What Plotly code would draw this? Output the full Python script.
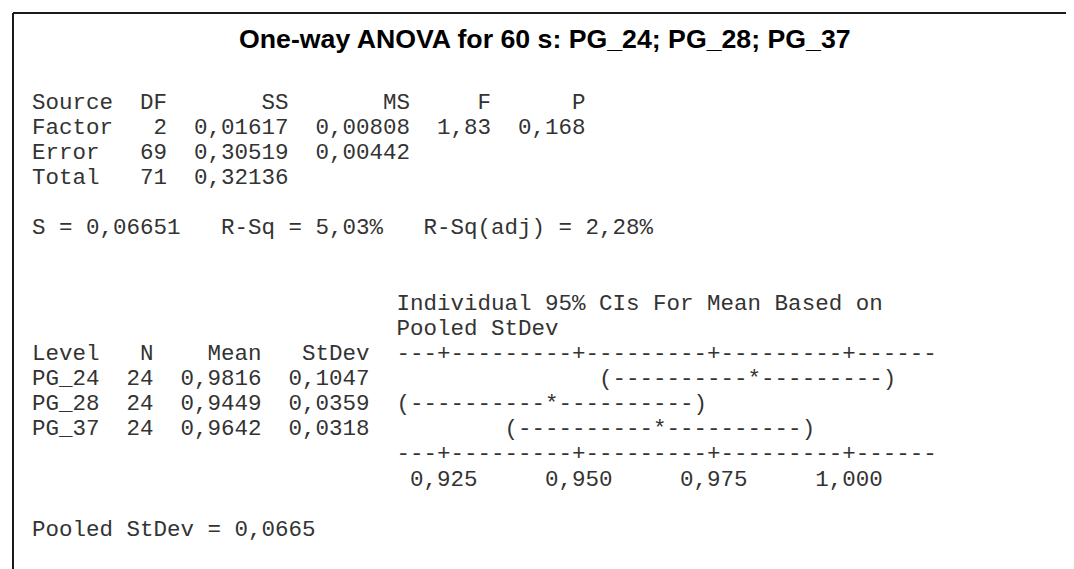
import plotly.graph_objects as go

# ---------------- data ----------------
title_text = "One-way ANOVA for 60 s: PG_24; PG_28; PG_37"

sources = ["Factor", "Error", "Total"]
dfs = [2, 69, 71]
ss_vals = [0.01617, 0.30519, 0.32136]
ms_vals = [0.00808, 0.00442, None]
f_vals = [1.83, None, None]
p_vals = [0.168, None, None]

s_value = 0.06651
r_sq = 5.03
r_sq_adj = 2.28

levels = ["PG_24", "PG_28", "PG_37"]
n_vals = [24, 24, 24]
means = [0.9816, 0.9449, 0.9642]
stdevs = [0.1047, 0.0359, 0.0318]
pooled_sd = 0.0665
t_crit = 1.995

tick_vals = [0.925, 0.950, 0.975, 1.000]
tick_labels = ["0,925", "0,950", "0,975", "1,000"]

# ---------------- layout constants ----------------
W, H = 1074, 569
X0 = 22          # left of text column 0 (px)
Y0 = 95          # centre of first text line (px)
DY = 25.1        # line spacing (px)
MONO = "Liberation Mono, Courier New, monospace"
FS = 22.5
TXT_COL = "#333333"

AX_W = 40        # axis width in characters
STEP = 0.0025    # value per character
TICK_COL = 3     # char column of first tick within axis


def fmt(v, d):
    return f"{v:.{d}f}".replace(".", ",")


def col_of(v):
    return int(round(TICK_COL + (v - tick_vals[0]) / STEP))


def axis_line():
    chars = ["-"] * AX_W
    for t in tick_vals:
        chars[col_of(t)] = "+"
    return "".join(chars)


def ci_line(m):
    half = t_crit * pooled_sd / (n_vals[0] ** 0.5)
    lo, hi, c = col_of(m - half), col_of(m + half), col_of(m)
    chars = [" "] * AX_W
    for i in range(lo + 1, hi):
        chars[i] = "-"
    chars[lo] = "("
    chars[hi] = ")"
    chars[c] = "*"
    return "".join(chars).rstrip()


def tick_label_line():
    chars = [" "] * AX_W
    for t, lab in zip(tick_vals, tick_labels):
        start = col_of(t) - len(lab) // 2
        for i, ch in enumerate(lab):
            chars[start + i] = ch
    return "".join(chars).rstrip()


lines = []
lines.append(f"{'Source':<6}  {'DF':>2}  {'SS':>7}  {'MS':>7}  {'F':>4}  {'P':>5}")
for s, d, ss, ms, f, p in zip(sources, dfs, ss_vals, ms_vals, f_vals, p_vals):
    row = f"{s:<6}  {d:>2}  {fmt(ss, 5):>7}"
    if ms is not None:
        row += f"  {fmt(ms, 5):>7}"
    if f is not None:
        row += f"  {fmt(f, 2):>4}  {fmt(p, 3):>5}"
    lines.append(row)
lines.append("")
lines.append(f"S = {fmt(s_value, 5)}   R-Sq = {fmt(r_sq, 2)}%   R-Sq(adj) = {fmt(r_sq_adj, 2)}%")
lines.append("")
lines.append("")
pad = " " * 27
lines.append(pad + "Individual 95% CIs For Mean Based on")
lines.append(pad + "Pooled StDev")
lines.append(f"{'Level':<6}{'N':>3}  {'Mean':>6}  {'StDev':>6}  " + axis_line())
for lv, n, m, sd in zip(levels, n_vals, means, stdevs):
    lines.append(f"{lv:<6}{n:>3}  {fmt(m, 4):>6}  {fmt(sd, 4):>6}  " + ci_line(m))
lines.append(pad + axis_line())
lines.append(pad + tick_label_line())
lines.append("")
lines.append(f"Pooled StDev = {fmt(pooled_sd, 4)}")

fig = go.Figure()

annotations = []
for i, ln in enumerate(lines):
    if not ln.strip():
        continue
    annotations.append(dict(
        x=X0 / W, y=1 - (Y0 + i * DY) / H, xref="paper", yref="paper",
        xanchor="left", yanchor="middle", showarrow=False,
        text=ln.replace(" ", "\u00a0"),
        font=dict(family=MONO, size=FS, color=TXT_COL),
        align="left",
    ))

annotations.append(dict(
    x=0.5, y=1 - 31 / H, xref="paper", yref="paper",
    xanchor="center", yanchor="middle", showarrow=False,
    text=title_text,
    font=dict(family="Liberation Sans, Arial, sans-serif", size=26.7, color="black", weight="bold"),
))

shapes = [
    dict(type="line", xref="paper", yref="paper", x0=5 / W, x1=1, y0=1 - 5 / H, y1=1 - 5 / H,
         line=dict(color="#1a1a1a", width=2)),
    dict(type="line", xref="paper", yref="paper", x0=5 / W, x1=5 / W, y0=1 - 5 / H, y1=0,
         line=dict(color="#1a1a1a", width=2)),
]

fig.update_layout(
    width=W, height=H,
    margin=dict(l=0, r=0, t=0, b=0),
    paper_bgcolor="white", plot_bgcolor="white",
    xaxis=dict(visible=False), yaxis=dict(visible=False),
    annotations=annotations, shapes=shapes,
    showlegend=False,
)

fig.write_html("out.html")
